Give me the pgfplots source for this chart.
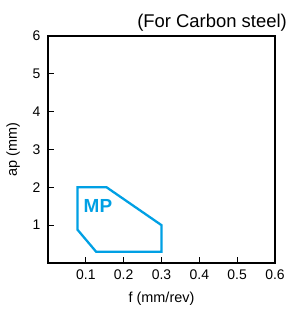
\documentclass[border=0pt]{standalone}
\usepackage{fontspec}
\setmainfont{Liberation Sans}
\usepackage{pgfplots}
\pgfplotsset{compat=1.18}
\definecolor{mpblue}{RGB}{0,160,228}
\begin{document}
\begin{tikzpicture}
\useasboundingbox (-48bp,-55bp) rectangle (241bp,263bp);
\begin{axis}[
  at={(0,0)}, anchor=origin,
  scale only axis,
  width=227bp, height=227bp,
  xmin=0, xmax=0.6, ymin=0, ymax=6,
  xtick={0.1,0.2,0.3,0.4,0.5,0.6},
  ytick={1,2,3,4,5,6},
  xticklabels={0.1,0.2,0.3,0.4,0.5,0.6},
  tick align=inside,
  xtick pos=bottom, ytick pos=left,
  major tick length=6bp,
  axis line style={line width=1.1pt},
  tick style={line width=0.8pt, black},
  ticklabel style={font=\fontsize{14}{15}\selectfont},
  xticklabel style={yshift=-3bp},
  yticklabel style={xshift=-4bp},
  /pgf/number format/assume math mode=true,
  xlabel={f (mm/rev)},
  ylabel={ap (mm)},
  label style={font=\fontsize{14.5}{15}\selectfont},
  xlabel style={yshift=-6bp},
  ylabel style={yshift=6bp},
  clip=false,
]
\addplot[mpblue, line width=2.3pt, line join=miter] coordinates {
  (0.078,2.0) (0.155,2.0) (0.3,1.0) (0.3,0.3) (0.127,0.3) (0.078,0.88) (0.078,2.0)
} -- cycle;
\node[mpblue, font=\fontsize{19}{20}\selectfont\bfseries] at (axis cs:0.132,1.52) {MP};
\node[anchor=base east, font=\fontsize{18.5}{19}\selectfont, inner sep=0pt] at ([xshift=12bp,yshift=9bp]rel axis cs:1,1) {(For Carbon steel)};
\end{axis}
\end{tikzpicture}
\end{document}
